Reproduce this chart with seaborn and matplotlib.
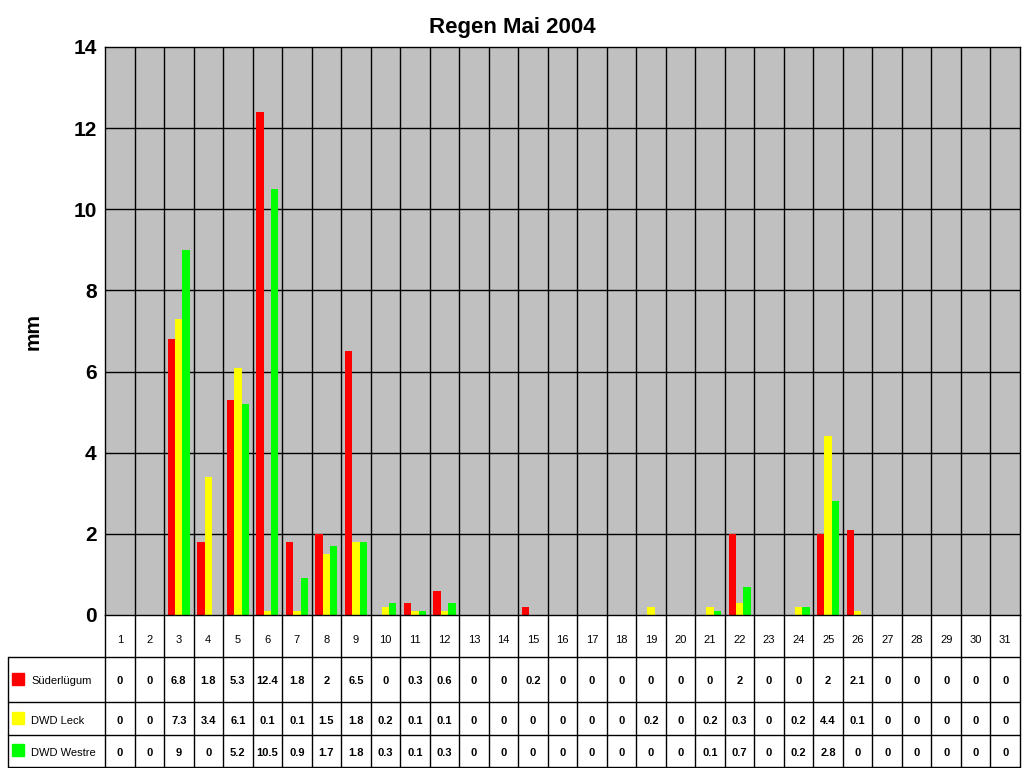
import numpy as np
import pandas as pd
import matplotlib
matplotlib.use("Agg")
import matplotlib.pyplot as plt
import seaborn as sns

days = [str(d) for d in range(1, 32)]
suederluegum = [0, 0, 6.8, 1.8, 5.3, 12.4, 1.8, 2, 6.5, 0, 0.3, 0.6, 0, 0, 0.2, 0, 0, 0, 0, 0, 0, 2, 0, 0, 2, 2.1, 0, 0, 0, 0, 0]
dwd_leck = [0, 0, 7.3, 3.4, 6.1, 0.1, 0.1, 1.5, 1.8, 0.2, 0.1, 0.1, 0, 0, 0, 0, 0, 0, 0.2, 0, 0.2, 0.3, 0, 0.2, 4.4, 0.1, 0, 0, 0, 0, 0]
dwd_westre = [0, 0, 9, 0, 5.2, 10.5, 0.9, 1.7, 1.8, 0.3, 0.1, 0.3, 0, 0, 0, 0, 0, 0, 0, 0, 0.1, 0.7, 0, 0.2, 2.8, 0, 0, 0, 0, 0, 0]
series = ["Süderlügum", "DWD Leck", "DWD Westre"]
colors = ["#FF0000", "#FFFF00", "#00FF00"]

df = pd.DataFrame({
    "day": days * 3,
    "mm": suederluegum + dwd_leck + dwd_westre,
    "station": sum([[s] * 31 for s in series], []),
})

sns.set_style("white")
plt.rcParams["font.family"] = ["Liberation Sans", "DejaVu Sans"]
plt.rcParams["text.color"] = "black"
plt.rcParams["axes.labelcolor"] = "black"
plt.rcParams["ytick.color"] = "black"

W, H = 1024, 768
fig = plt.figure(figsize=(W / 100, H / 100), dpi=100)
L, R, T, B = 105, 1020, 47, 615
ax = fig.add_axes([L / W, 1 - B / H, (R - L) / W, (B - T) / H])
ax.set_facecolor("#C0C0C0")
sns.barplot(data=df, x="day", y="mm", hue="station", palette=colors,
            width=0.75, ax=ax, legend=False, saturation=1, linewidth=0)
ax.set_ylim(0, 14)
ax.set_xlim(-0.5, 30.5)
ax.set_yticks(range(0, 15, 2))
ax.tick_params(axis="y", labelsize=15, length=0, pad=6)
for lab in ax.get_yticklabels():
    lab.set_fontweight("bold")
ax.set_xticks([])
ax.set_xlabel("")
ax.set_ylabel("mm", fontsize=15, fontweight="bold", labelpad=22)
fig.text(0.5, 1 - 28 / H, "Regen Mai 2004", ha="center", va="center",
         fontsize=16, fontweight="bold")
for y in range(2, 14, 2):
    ax.axhline(y, color="black", lw=1, zorder=0.5)
for x in np.arange(0.5, 30, 1):
    ax.axvline(x, color="black", lw=1, zorder=0.5)
for s in ax.spines.values():
    s.set_color("black")
    s.set_linewidth(1)

# data table below the chart
tab = fig.add_axes([0, 0, 1, 1], facecolor="none")
tab.set_xlim(0, W)
tab.set_ylim(H, 0)
tab.axis("off")
cw = (R - L) / 31
rows = [657, 702, 735, 767]
for y in rows:
    tab.plot([8, R], [y, y], color="black", lw=1)
tab.plot([8, 8], [rows[0], rows[-1]], color="black", lw=1)
for i in range(32):
    x = L + i * cw
    tab.plot([x, x], [B, rows[-1]], color="black", lw=1)
for i, d in enumerate(days):
    tab.text(L + (i + 0.5) * cw, 640, d, ha="center", va="center", fontsize=8)
for r, (name, vals, c) in enumerate(zip(series, [suederluegum, dwd_leck, dwd_westre], colors)):
    yc = (rows[r] + rows[r + 1]) / 2 + 2
    tab.add_patch(plt.Rectangle((12, yc - 9), 12, 12, color=c))
    tab.text(31, yc, name, ha="left", va="center", fontsize=8)
    for i, v in enumerate(vals):
        tab.text(L + (i + 0.5) * cw, yc, f"{v:g}", ha="center", va="center",
                 fontsize=8, fontweight="bold")

fig.savefig("out.png", dpi=100)
